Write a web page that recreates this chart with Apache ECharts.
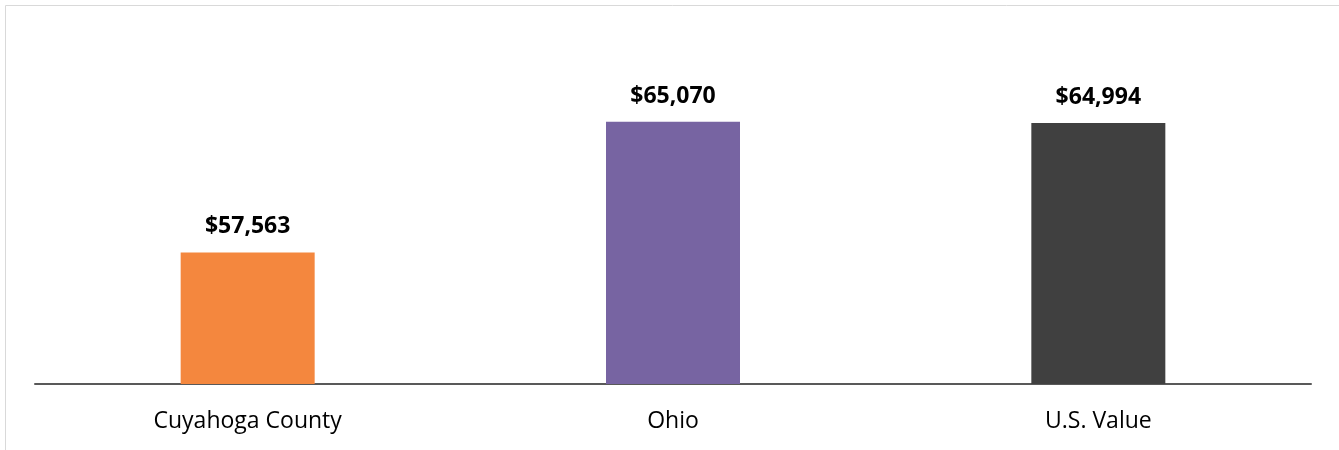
<!DOCTYPE html>
<html>
<head>
<meta charset="utf-8">
<script src="https://cdn.jsdelivr.net/npm/echarts@6/dist/echarts.min.js"></script>
<style>
html,body{margin:0;padding:0;background:#fff;}
#main{width:1339px;height:450px;}
</style>
</head>
<body>
<div id="main"></div>
<script>
const categories = ["Cuyahoga County", "Ohio", "U.S. Value"];
const values = [57563, 65070, 64994];
const barColors = ["#F4873E", "#7764A2", "#404040"];

const chart = echarts.init(document.getElementById('main'), null, {renderer: 'canvas'});
chart.setOption({
  animation: false,
  graphic: [{
    type: 'rect',
    shape: {x: 5.5, y: 5.5, width: 1400, height: 500},
    style: {fill: 'none', stroke: '#d9d9d9', lineWidth: 1},
    silent: true
  }],
  grid: {left: 35, right: 28, top: 36, height: 348, containLabel: false},
  xAxis: {
    type: 'category',
    data: categories,
    axisLine: {lineStyle: {color: '#595959', width: 2}},
    axisTick: {show: false},
    axisLabel: {
      color: '#000',
      fontSize: 23,
      fontFamily: 'Open Sans',
      margin: 26
    }
  },
  yAxis: {
    type: 'value',
    min: 50000,
    max: 70000,
    show: false
  },
  series: [{
    type: 'bar',
    barWidth: 134,
    data: values.map((v, i) => ({value: v, itemStyle: {color: barColors[i]}})),
    label: {
      show: true,
      position: 'top',
      distance: 14,
      color: '#000',
      fontWeight: 'bold',
      fontSize: 23,
      fontFamily: 'Open Sans',
      formatter: p => '$' + p.value.toLocaleString('en-US')
    }
  }]
});
</script>
</body>
</html>
